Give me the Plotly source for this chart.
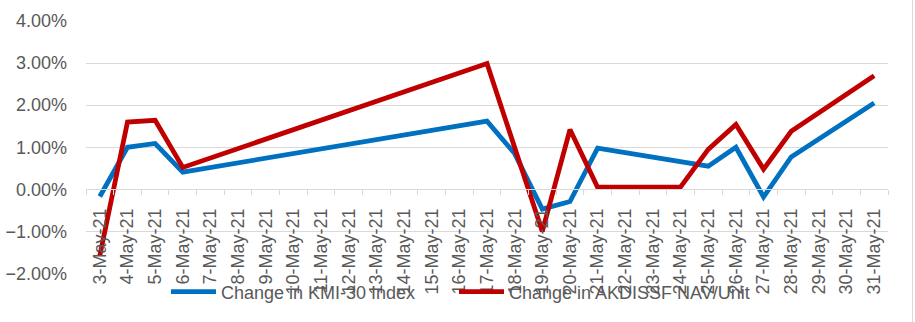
import plotly.graph_objects as go

# Every calendar day shown on the category axis
all_days = [f"{d}-May-21" for d in range(3, 32)]

# Trading days with observations
trade_days = ["3-May-21", "4-May-21", "5-May-21", "6-May-21", "17-May-21",
              "18-May-21", "19-May-21", "20-May-21", "21-May-21", "24-May-21",
              "25-May-21", "26-May-21", "27-May-21", "28-May-21", "31-May-21"]

# Daily change, in percent
kmi30_change = [-0.17, 1.00, 1.09, 0.41, 1.62,
                0.85, -0.47, -0.29, 0.98, 0.67,
                0.55, 1.00, -0.18, 0.77, 2.05]
akdissf_change = [-1.57, 1.60, 1.64, 0.52, 2.99,
                  1.00, -1.00, 1.42, 0.05, 0.06,
                  0.95, 1.54, 0.48, 1.38, 2.70]

series_names = ["Change in KMI-30 Index", "Change in AKDISSF NAV/Unit"]
series_colors = ["#0070C0", "#C00000"]
legend_ids = ["legend", "legend2"]

fig = go.Figure()
for name, vals, col, lg in zip(series_names, [kmi30_change, akdissf_change],
                               series_colors, legend_ids):
    fig.add_trace(go.Scatter(
        x=trade_days, y=vals, name=name, mode="lines",
        line=dict(color=col, width=4.8),
        hoverinfo="x+y", legend=lg,
    ))

grid = "#d9d9d9"
text_col = "#595959"


def legend_box(left_px):
    # one legend entry, placed in pixel terms along the bottom of the figure
    return dict(
        orientation="h",
        xref="container", yref="container",
        x=left_px / 915, xanchor="left",
        y=30 / 322, yanchor="middle",
        bgcolor="rgba(0,0,0,0)",
        font=dict(size=18, color=text_col),
        itemwidth=45,
    )


fig.update_layout(
    width=915, height=322,
    margin=dict(l=86, r=27, t=21, b=39),
    paper_bgcolor="white", plot_bgcolor="white",
    font=dict(family="Liberation Sans", size=18, color=text_col),
    showlegend=True,
    legend=legend_box(166),
    legend2=legend_box(454),
    xaxis=dict(
        type="category",
        categoryorder="array", categoryarray=all_days,
        tickvals=all_days,
        range=[-0.5, len(all_days) - 0.5],
        anchor="free", position=1 / 3,
        tickangle=-90,
        tickson="boundaries",
        ticks="outside", ticklen=5, tickcolor=grid, tickwidth=1,
        showline=True, linecolor=grid, linewidth=1,
        showgrid=False, zeroline=False,
        automargin=False,
        ticklabelstandoff=11,
    ),
    yaxis=dict(
        domain=[0, 1],
        range=[-2, 4], dtick=1, tick0=0,
        tickformat=".2f", ticksuffix="%",
        showgrid=True, gridcolor=grid, gridwidth=1,
        zeroline=False, showline=False,
        ticks="", automargin=False,
        ticklabelstandoff=18,
    ),
    shapes=[dict(
        type="line", xref="paper", yref="paper",
        x0=(912.5 - 86) / 802, x1=(912.5 - 86) / 802,
        y0=-1, y1=2, line=dict(color=grid, width=1),
    )],
)

fig.write_html("out.html")
